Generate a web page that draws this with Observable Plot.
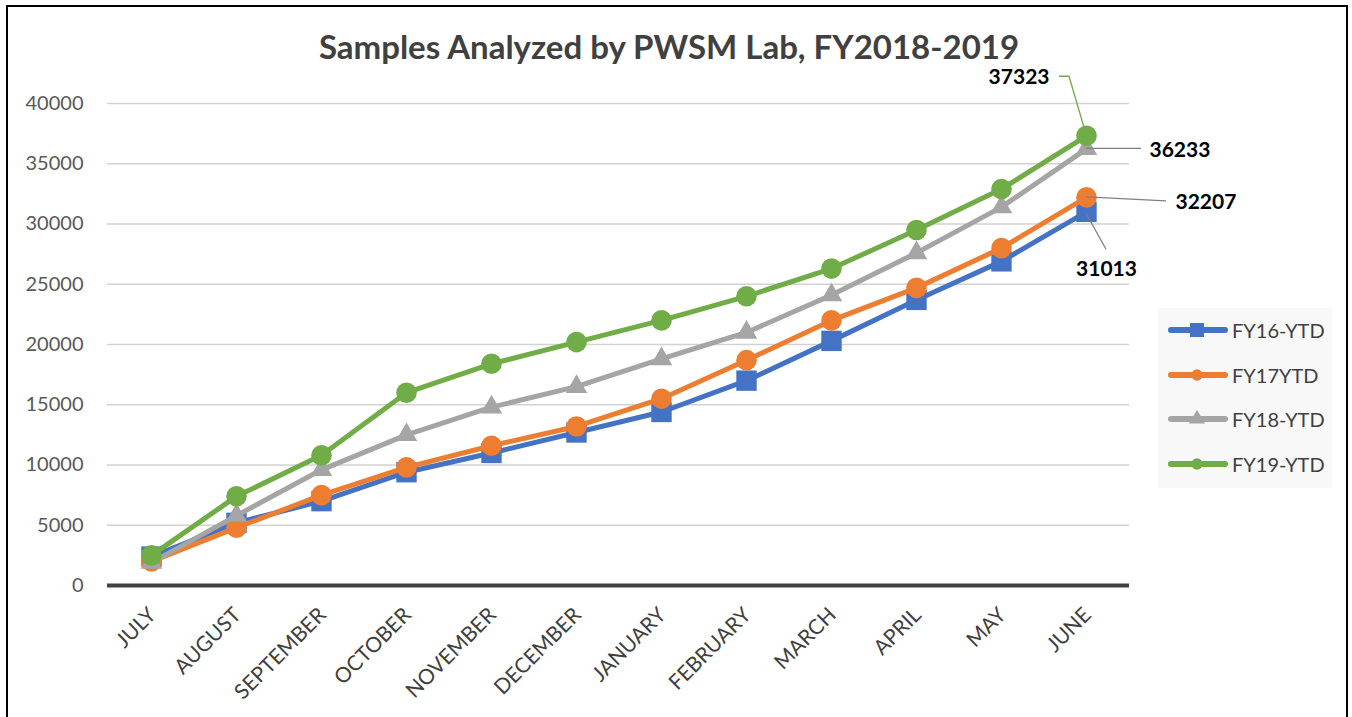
<!DOCTYPE html>
<html><head><meta charset="utf-8">
<script src="https://cdn.jsdelivr.net/npm/d3@7"></script>
<script src="https://cdn.jsdelivr.net/npm/@observablehq/plot@0.6"></script>
<style>
html,body{margin:0;padding:0;background:#fff;overflow:hidden;}
#wrap{position:relative;width:1352px;height:717px;font-family:Lato,"Open Sans",sans-serif;}
#chart{position:absolute;left:0;top:0;}
#frame{position:absolute;left:6px;top:5px;width:1342px;height:760px;border:2px solid #000;box-sizing:border-box;pointer-events:none;}
#title{position:absolute;left:0;width:1338px;top:30px;text-align:center;font-weight:700;font-size:33px;line-height:1;color:#404040;white-space:nowrap;}
#legend{position:absolute;left:1158px;top:308px;width:174px;height:180px;background:#f8f8f8;}
.lg{position:absolute;left:10px;height:24px;display:flex;align-items:center;font-size:20px;color:#404040;white-space:nowrap;}
.lg svg{margin-right:4px;}
</style></head>
<body><div id="wrap"><div id="chart"></div><div id="title"></div><div id="legend"></div><div id="frame"></div></div>
<script>
const titleText = "Samples Analyzed by PWSM Lab, FY2018-2019";
const months = ["JULY","AUGUST","SEPTEMBER","OCTOBER","NOVEMBER","DECEMBER","JANUARY","FEBRUARY","MARCH","APRIL","MAY","JUNE"];
const seriesNames = ["FY16-YTD","FY17YTD","FY18-YTD","FY19-YTD"];
const fy16 = [2400, 5200, 7000, 9400, 11000, 12700, 14400, 17000, 20300, 23700, 26900, 31013];
const fy17 = [2000, 4800, 7500, 9800, 11600, 13200, 15500, 18700, 22000, 24700, 28000, 32207];
const fy18 = [1900, 5800, 9600, 12500, 14800, 16500, 18800, 21000, 24100, 27600, 31400, 36233];
const fy19 = [2500, 7400, 10800, 16000, 18400, 20200, 22000, 24000, 26300, 29500, 32900, 37323];
const yTicks = [0, 5000, 10000, 15000, 20000, 25000, 30000, 35000, 40000];

// styles (kept apart from data)
const colors = ["#4472C4","#ED7D31","#A5A5A5","#70AD47"];
const symbols = ["square","circle","triangle","circle"];
const radii = [11.5, 10.3, 8, 10.3];
const labelStyle = [
  {dx: 20, dy: 57, anchor: "middle", leader: [[0,2],[20,38]], stroke: "#808080"},
  {dx: 89, dy: 5, anchor: "start", leader: [[0,0],[80,4]], stroke: "#808080"},
  {dx: 63, dy: 1, anchor: "start", leader: [[0,0],[55,0]], stroke: "#808080"},
  {dx: -37, dy: -58, anchor: "end", leader: [[-2,-8],[-17,-59],[-27,-59]], stroke: "#70AD47"}
];

const values = [fy16, fy17, fy18, fy19];
const rows = seriesNames.map((s, i) => months.map((m, j) => ({series: s, month: m, value: values[i][j]})));
const last = months[months.length - 1];

const marks = [
  Plot.ruleY(yTicks.filter(t => t > 0), {stroke: "#d2d2d2", strokeWidth: 1.3}),
  Plot.ruleY([0], {stroke: "#404040", strokeWidth: 4}),
  Plot.text(yTicks, {y: d => d, text: d => String(d), frameAnchor: "left", dx: -24, textAnchor: "end", fontSize: 20, fill: "#595959", fontFamily: "Lato"}),
  Plot.text(months, {x: d => d, text: d => d, frameAnchor: "bottom", dx: 1, dy: 26, rotate: -45, textAnchor: "end", lineAnchor: "middle", fontSize: 21, fill: "#404040", fontFamily: "Lato"})
];
rows.forEach((r, i) => {
  marks.push(Plot.line(r, {x: "month", y: "value", stroke: colors[i], strokeWidth: 5, strokeLinejoin: "round"}));
  marks.push(Plot.dot(r, {x: "month", y: "value", symbol: symbols[i], r: radii[i], fill: colors[i], stroke: "none"}));
});
// leader lines
marks.push((index, scales) => {
  const g = d3.create("svg:g").attr("fill", "none").attr("stroke-width", 1.3);
  labelStyle.forEach((ls, i) => {
    const px = scales.x(last), py = scales.y(values[i][values[i].length - 1]);
    g.append("path").attr("stroke", ls.stroke)
      .attr("d", d3.line()(ls.leader.map(([a, b]) => [px + a, py + b])));
  });
  return g.node();
});
labelStyle.forEach((ls, i) => {
  const v = values[i][values[i].length - 1];
  marks.push(Plot.text([v], {x: () => last, y: d => d, text: d => String(d), dx: ls.dx, dy: ls.dy, textAnchor: ls.anchor, fontSize: 21, fontWeight: "bold", fill: "#000", fontFamily: "Lato"}));
});

const chart = Plot.plot({
  width: 1352, height: 717,
  marginLeft: 107, marginRight: 223, marginTop: 103, marginBottom: 132,
  x: {type: "point", domain: months, padding: 0.5, axis: null},
  y: {domain: [0, 40000], axis: null},
  style: {background: "transparent", fontFamily: "Lato"},
  marks
});
document.getElementById("chart").appendChild(chart);
document.getElementById("title").textContent = titleText;

const legend = document.getElementById("legend");
const tops = [10, 55, 99, 144];
seriesNames.forEach((s, i) => {
  const div = document.createElement("div");
  div.className = "lg";
  div.style.top = tops[i] + "px";
  const svg = d3.create("svg").attr("width", 60).attr("height", 24);
  svg.append("line").attr("x1", 3).attr("x2", 57).attr("y1", 12).attr("y2", 12)
    .attr("stroke", colors[i]).attr("stroke-width", 6).attr("stroke-linecap", "round");
  svg.append("path").attr("transform", "translate(29,12)")
    .attr("d", d3.symbol(symbols[i] === "square" ? d3.symbolSquare : symbols[i] === "triangle" ? d3.symbolTriangle : d3.symbolCircle, symbols[i] === "square" ? 196 : symbols[i] === "triangle" ? 110 : 100)())
    .attr("fill", colors[i]);
  div.appendChild(svg.node());
  const span = document.createElement("span");
  span.textContent = s;
  div.appendChild(span);
  legend.appendChild(div);
});
</script></body></html>
